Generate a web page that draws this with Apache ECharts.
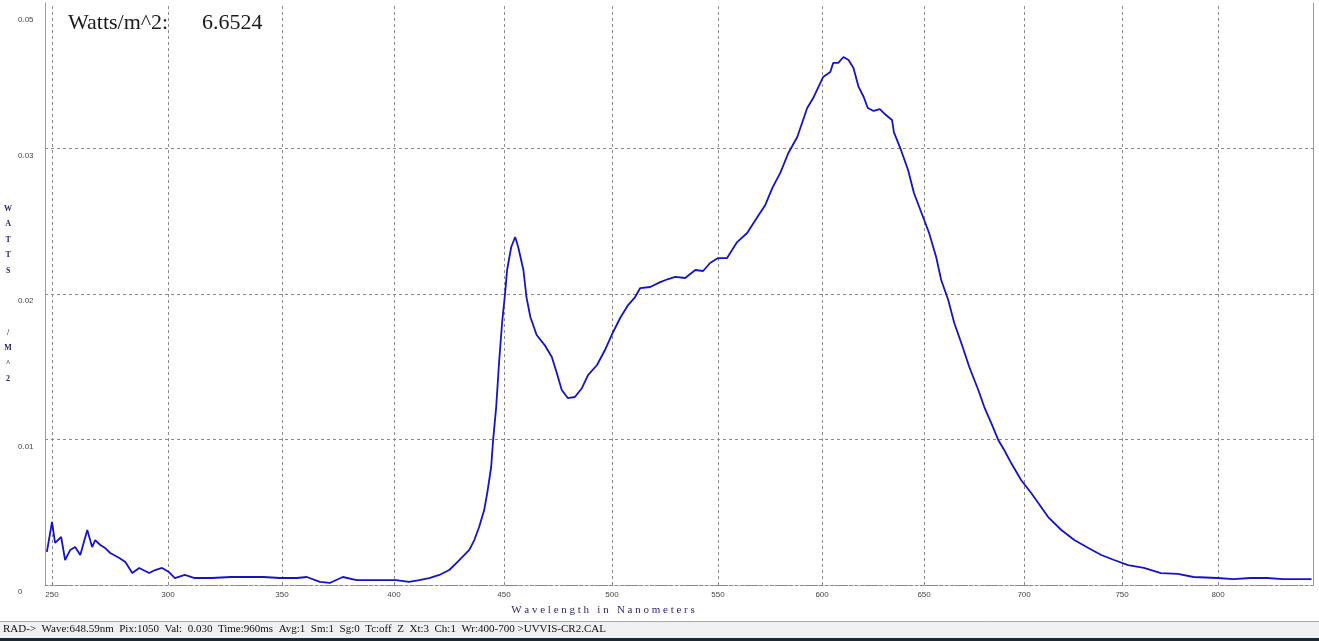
<!DOCTYPE html>
<html><head><meta charset="utf-8">
<script src="https://cdn.jsdelivr.net/npm/echarts@6/dist/echarts.min.js"></script>
<style>html,body{margin:0;padding:0;background:#fff;overflow:hidden}#c{width:1319px;height:641px}</style>
</head><body><div id="c"></div>
<script>
// ---- data ----
const wavelengths = [247.8,250.0,251.3,253.9,255.6,257.8,259.9,262.1,265.1,267.2,
268.5,270.7,272.8,275.0,278.9,281.5,284.5,287.5,291.8,294.4,
297.4,300.4,303.0,307.3,311.6,319.0,327.6,334.9,341.8,349.1,
356.6,361.0,366.8,371.2,377.0,383.2,388.9,394.7,400.9,406.8,
411.4,415.9,420.5,425.0,428.2,430.9,434.1,436.4,438.6,440.9,
442.3,444.1,445.0,446.4,447.7,449.1,450.5,451.4,453.3,455.1,
456.5,458.9,460.3,462.1,465.0,468.7,472.0,474.3,476.6,479.4,
482.7,486.0,488.8,493.0,496.7,500.5,503.8,507.5,510.8,513.2,
517.9,522.6,526.4,529.7,534.4,539.2,542.9,546.2,550.0,554.3,
559.1,563.9,568.8,572.6,576.0,579.8,583.7,588.0,592.8,595.7,
600.5,604.0,605.4,607.9,610.4,612.9,615.3,617.8,620.3,622.3,
625.2,628.2,631.2,634.2,635.1,638.6,642.1,645.0,649.5,652.5,
656.0,658.5,662.0,665.0,668.5,672.5,677.0,680.0,683.5,687.0,
690.0,693.5,698.5,703.6,712.2,718.9,725.5,732.7,739.3,745.9,
753.1,761.3,770.1,778.9,787.1,799.5,808.1,817.0,826.0,834.4,
843.4,849.7];
const watts = [0.00227,0.00433,0.00289,0.00330,0.00172,0.00241,0.00261,0.00206,0.00378,0.00261,
0.00309,0.00275,0.00254,0.00220,0.00186,0.00158,0.00082,0.00117,0.00082,0.00103,
0.00117,0.00089,0.00048,0.00069,0.00048,0.00048,0.00055,0.00055,0.00055,0.00048,
0.00048,0.00055,0.00021,0.00014,0.00055,0.00034,0.00034,0.00034,0.00034,0.00021,
0.00034,0.00048,0.00069,0.00103,0.00151,0.00192,0.00241,0.00309,0.00399,0.00515,
0.00632,0.00811,0.00997,0.01223,0.01526,0.01801,0.02007,0.02165,0.02323,0.02392,
0.02323,0.02165,0.01979,0.01842,0.01718,0.01649,0.01567,0.01457,0.01340,0.01285,
0.01292,0.01354,0.01443,0.01512,0.01615,0.01739,0.01835,0.01924,0.01979,0.02041,
0.02048,0.02082,0.02103,0.02117,0.02110,0.02165,0.02158,0.02213,0.02247,0.02247,
0.02357,0.02419,0.02529,0.02612,0.02729,0.02832,0.02969,0.03079,0.03278,0.03347,
0.03491,0.03526,0.03588,0.03588,0.03629,0.03608,0.03553,0.03423,0.03354,0.03278,
0.03258,0.03271,0.03230,0.03196,0.03113,0.02990,0.02852,0.02694,0.02529,0.02419,
0.02254,0.02096,0.01959,0.01801,0.01663,0.01498,0.01340,0.01223,0.01113,0.00997,
0.00928,0.00838,0.00722,0.00632,0.00467,0.00378,0.00309,0.00254,0.00206,0.00172,
0.00137,0.00117,0.00082,0.00076,0.00055,0.00048,0.00041,0.00048,0.00048,0.00041,
0.00041,0.00041];
const xTicks = [250,300,350,400,450,500,550,600,650,700,750,800];
const yTickValues = [0,0.01,0.02,0.03,0.04];
const yTickLabels = ['0','0.01','0.02','0.03','0.05'];
const totalLabel = 'Watts/m^2:';
const totalValue = '6.6524';
const xAxisTitle = 'W a v e l e n g t h   i n   N a n o m e t e r s';
const yAxisTitle = 'W\nA\nT\nT\nS\n\n\n\n/\nM\n^\n2';
const statusText = 'RAD->  Wave:648.59nm  Pix:1050  Val:  0.030  Time:960ms  Avg:1  Sm:1  Sg:0  Tc:off  Z  Xt:3  Ch:1  Wr:400-700 >UVVIS-CR2.CAL';
const xRange = [247, 850.5];

// detector calibration: the axis is linear in detector pixel, not wavelength
function pix(l){ const t = l - 550; return 2.1*t - 0.0004*t*t; }

const chart = echarts.init(document.getElementById('c'), null, {renderer:'canvas'});
const gridColor = '#8a8a8a';
chart.setOption({
  animation:false,
  backgroundColor:'#ffffff',
  title:[
    {text: totalLabel, left:68, top:12, padding:0,
     textStyle:{fontFamily:'Liberation Serif', fontSize:22, fontWeight:'normal', color:'#1a1a1a'}},
    {text: totalValue, left:202, top:12, padding:0,
     textStyle:{fontFamily:'Liberation Serif', fontSize:22, fontWeight:'normal', color:'#1a1a1a'}},
    {text: xAxisTitle, left:603, top:605, padding:0, textAlign:'center',
     textStyle:{fontFamily:'Liberation Serif', fontSize:11, fontWeight:'normal', color:'#2a2a66'}}
  ],
  grid:{left:45, right:6, top:3, bottom:56},
  xAxis:{type:'value', min:pix(xRange[0]), max:pix(xRange[1]),
    axisLine:{show:true, onZero:false, lineStyle:{color:gridColor, type:[3,2], width:1}},
    axisTick:{show:false}, axisLabel:{show:false}, splitLine:{show:false}},
  yAxis:[{type:'value', min:0, max:0.04, interval:0.01,
    name: yAxisTitle, nameLocation:'middle', nameRotate:0, nameGap:35,
    nameTextStyle:{fontFamily:'Liberation Serif', fontSize:8, fontWeight:'bold', color:'#2a2a5e', lineHeight:15.5, padding:[10,0,0,0], align:'center'},
    axisLine:{show:true, onZero:false, lineStyle:{color:'#9a9a9a', width:1}},
    axisTick:{show:false},
    axisLabel:{margin:27, align:'left', verticalAlign:'top', fontFamily:'Liberation Sans', fontSize:8, color:'#444', padding:[3,0,0,0],
      formatter:function(v){ const i = yTickValues.findIndex(function(t){return Math.abs(t-v)<1e-9;}); const s = i>=0 ? yTickLabels[i] : ''; return i===yTickValues.length-1 ? '{t|'+s+'}' : s; },
      rich:{t:{fontFamily:'Liberation Sans', fontSize:8, color:'#444', padding:[10,0,0,0]}}},
    splitLine:{show:true, showMaxLine:false, lineStyle:{color:gridColor, type:[3,3], width:1}}},
   {type:'value', position:'right', min:0, max:0.04,
    axisLine:{show:true, onZero:false, lineStyle:{color:'#9a9a9a', width:1}}, axisTick:{show:false}, axisLabel:{show:false}, splitLine:{show:false}}],
  series:[{
    type:'line', showSymbol:false, symbol:'none',
    data: wavelengths.map(function(l,i){ return [pix(l), watts[i]]; }),
    lineStyle:{color:'#1414c4', width:1.8}, itemStyle:{color:'#1414c4'},
    z:5,
    markLine:{silent:true, symbol:['none','none'], animation:false,
      lineStyle:{color:gridColor, type:[3,3], width:1},
      label:{show:true, position:'start', distance:6, fontFamily:'Liberation Sans', fontSize:8, color:'#444'},
      emphasis:{disabled:true},
      data: xTicks.map(function(l){ return {xAxis: pix(l), label:{formatter: String(l)}}; })
    }
  }],
  graphic:[
    {type:'rect', silent:true, shape:{x:0, y:621, width:1319, height:17}, style:{fill:'#f0f0f0'}},
    {type:'line', silent:true, shape:{x1:0, y1:621.5, x2:1319, y2:621.5}, style:{stroke:'#a8a8a8', lineWidth:1}},
    {type:'rect', silent:true, shape:{x:0, y:638, width:1319, height:3}, style:{fill:'#1e2833'}},
    {type:'text', silent:true, x:3, y:629, style:{text: statusText, fontFamily:'Liberation Serif', fontSize:11, fill:'#111', verticalAlign:'middle', align:'left'}}
  ]
});
</script>
</body></html>
